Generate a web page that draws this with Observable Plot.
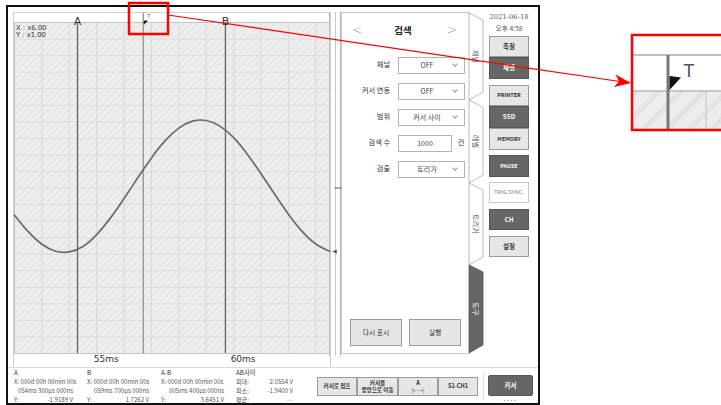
<!DOCTYPE html>
<html><head><meta charset="utf-8">
<script src="https://cdn.jsdelivr.net/npm/d3@7"></script>
<script src="https://cdn.jsdelivr.net/npm/@observablehq/plot@0.6"></script>
<style>
html,body{margin:0;padding:0;background:#fff;}
#root{position:relative;width:721px;height:405px;overflow:hidden;font-family:"Noto Sans CJK KR","Noto Sans",sans-serif;color:#333;}
</style></head>
<body><div id="root"></div>
<script>
// ---------- data ----------
const timeMs = [52.0,52.5,53.0,53.5,54.0,54.5,55.0,55.5,56.0,56.5,57.0,57.5,58.0,58.5,59.0,59.5,60.0,60.5,61.0,61.5,62.0,62.5,63.0,63.5];
const voltage = [-0.82,-1.32,-1.70,-1.91,-1.93,-1.77,-1.41,-0.91,-0.32,0.31,0.91,1.43,1.81,2.02,2.04,1.87,1.52,1.02,0.43,-0.19,-0.79,-1.31,-1.69,-1.91];
const cursorLabels = ["A", "B"];
const cursorMs = [54.3, 59.7];
const triggerLabel = "T";
const triggerMs = 56.7;
const axisTicksMs = [55, 60];
const zoomLabels = ["X : x6.00", "Y : x1.00"];

const readTitles = ["A", "B", "A-B", "AB사이"];
const readTime1 = ["X: 000d 00h 00min 00s", "X: 000d 00h 00min 00s", "X: 000d 00h 00min 00s"];
const readTime2 = ["054ms 300µs 000ns", "059ms 700µs 000ns", "005ms 400µs 000ns"];
const readY = ["-1.9189 V", "1.7262 V", "3.6451 V"];
const statLabels = ["최대:", "최소:", "평균:"];
const statValues = ["2.0554 V", "-1.9400 V", "---"];

const panelTitle = "검색";
const formLabels = ["채널", "커서 연동", "범위", "검색 수", "검출"];
const formValues = ["OFF", "OFF", "커서 사이", "1000", "트리거"];
const countUnit = "건";
const panelButtons = ["다시 표시", "실행"];
const tabLabels = ["채널", "레벨", "트리거", "도구"];
const dateText = ["2021-06-18", "오후 4:58"];
const sideLabels = ["측정", "재생", "PRINTER", "SSD", "MEMORY", "PAUSE", "TRIG.SYNC.", "CH", "설정"];
const bottomButtons = ["커서로 점프", "커서를<br>중앙으로 이동", "A<br><span style='font-weight:400;font-size:5px'>|←→|</span>", "S1-CH1"];
const cursorButton = "커서";

// ---------- helpers ----------
const root = document.getElementById("root");
function div(style, html) {
  const d = document.createElement("div");
  d.style.cssText = "position:absolute;box-sizing:border-box;" + style;
  if (html != null) d.innerHTML = html;
  root.appendChild(d);
  return d;
}
function txt(s, x, y, size, anchor = "start", extra = "") {
  const tx = anchor === "middle" ? "-50%" : anchor === "end" ? "-100%" : "0";
  return div(`left:${x}px;top:${y}px;transform:translate(${tx},-50%);font-size:${size}px;white-space:nowrap;line-height:1;${extra}`, s);
}
function btn(label, x0, y0, x1, y1, kind, size) {
  const styles = {
    light: "background:#e6e6e6;border:1px solid #9c9c9c;color:#333;",
    dark: "background:#666;border:1px solid #555;color:#fff;",
    white: "background:#fff;border:1px solid #c8c8c8;color:#aaa;"
  };
  return div(`left:${x0}px;top:${y0}px;width:${x1 - x0}px;height:${y1 - y0}px;${styles[kind]}display:flex;align-items:center;justify-content:center;text-align:center;font-weight:700;font-size:${size}px;line-height:1.25;`, `<div>${label}</div>`);
}

// ---------- frame & panels ----------
div("left:6px;top:5px;width:534px;height:400px;border:2px solid #111;");
div("left:13px;top:12px;width:318px;height:356px;border:1px solid #d0d0d0;background:#fff;");
div("left:329px;top:12px;width:12px;height:344px;border-left:1px solid #b8b8b8;border-right:1px solid #b8b8b8;");
div("left:335px;top:12px;width:1px;height:344px;background:#c8c8c8;");
div("left:8px;top:367px;width:530px;height:1px;background:#dcdcdc;");
div("left:341px;top:12px;width:129px;height:342px;border:1px solid #c8c8c8;background:#fff;");

// search panel
txt(panelTitle, 403, 31, 9.5, "middle", "font-weight:700;color:#222;");
txt("&lt;", 357, 30, 12, "middle", "color:#999;font-family:'DejaVu Sans';font-weight:200;");
txt("&gt;", 452, 30, 12, "middle", "color:#999;font-family:'DejaVu Sans';font-weight:200;");
formLabels.forEach((lab, i) => {
  const yc = 65 + i * 26;
  txt(lab, 390, yc, 7.2, "end", "color:#333;");
  const isCount = i === 3;
  const x1 = isCount ? 452 : 465;
  div(`left:398px;top:${yc - 8.5}px;width:${x1 - 398}px;height:17px;border:1px solid #b4b4b4;background:#fff;`);
  txt(formValues[i], isCount ? 425 : 427, yc, 7, "middle", "color:#444;");
  if (isCount) txt(countUnit, 461, yc, 7.2, "middle", "color:#333;");
  else div(`left:453px;top:${yc - 3.5}px;width:4px;height:4px;border-right:1px solid #999;border-bottom:1px solid #999;transform:rotate(45deg);`);
});
btn(panelButtons[0], 350, 319, 402, 346, "light", 6.8).style.fontWeight = "400";
btn(panelButtons[1], 409, 319, 461, 346, "light", 6.8).style.fontWeight = "400";

// right column
txt(dateText[0], 509, 17, 6.8, "middle", "color:#555;font-family:'DejaVu Serif','Liberation Serif',serif;");
txt(dateText[1], 509, 28, 6.8, "middle", "color:#555;");
const sideLayout = [[36,57,"light"],[57,79,"dark"],[85,106,"light"],[106,128,"dark"],[128,150,"light"],[155,177,"dark"],[182,203,"white"],[209,230,"dark"],[236,257,"light"]];
sideLabels.forEach((lab, i) => {
  const [y0, y1, kind] = sideLayout[i];
  btn(lab, 489, y0, 529, y1, kind, lab.length > 4 ? 5.4 : 6.4);
});

// bottom readouts
const colX = [14, 87, 161, 236], colR = [73, 149, 224, 293];
const rowY = [373, 382, 391, 400];
readTitles.forEach((t, i) => txt(t, colX[i], rowY[0], 6.3, "start", "color:#333;"));
for (let i = 0; i < 3; i++) {
  txt(readTime1[i], colX[i], rowY[1], 6.1, "start", "color:#555;");
  txt(readTime2[i], colR[i], rowY[2], 6.1, "end", "color:#555;");
  txt("Y:", colX[i], rowY[3], 6.1, "start", "color:#555;");
  txt(readY[i], colR[i], rowY[3], 6.1, "end", "color:#555;");
}
statLabels.forEach((l, j) => {
  txt(l, colX[3], rowY[j + 1], 6.1, "start", "color:#555;");
  txt(statValues[j], colR[3], rowY[j + 1], 6.1, "end", "color:" + (j === 2 ? "#aaa" : "#555") + ";");
});

// bottom buttons
const bbX = [317, 357, 398, 438, 478];
bottomButtons.forEach((b, i) => btn(b, bbX[i], 377, bbX[i + 1], 396, "light", 5.6));
div("left:483px;top:372px;width:1px;height:28px;background:#ddd;");
btn(cursorButton, 488, 375, 533, 396, "dark", 6.4).style.borderRadius = "2px";
txt("• • • •", 510, 400, 4.5, "middle", "color:#888;letter-spacing:0.5px;");

// ---------- the chart (Observable Plot) ----------
const chart = Plot.plot({
  width: 340, height: 370,
  marginLeft: 14, marginRight: 11, marginTop: 22, marginBottom: 17,
  x: {domain: [52, 63.5]},
  y: {domain: [-5, 5], axis: null},
  style: {background: "transparent", fontFamily: "'DejaVu Sans', sans-serif", overflow: "visible"},
  marks: [
    Plot.frame({fill: "url(#hatch)", stroke: null}),
    Plot.gridX(d3.range(53, 64), {stroke: "#d9d9d9", strokeOpacity: 1, strokeWidth: 1}),
    Plot.gridY(d3.range(-4.5, 5, 0.5), {stroke: "#dddddd", strokeOpacity: 1, strokeWidth: 1}),
    Plot.frame({stroke: "#c4c4c4"}),
    Plot.ruleX(cursorMs, {y1: -5, y2: 5, stroke: "#6a6a6a", strokeWidth: 1.4}),
    Plot.ruleX([triggerMs], {y1: -5, y2: 5.28, stroke: "#8a8a8a", strokeWidth: 1.2}),
    Plot.line(voltage, {x: timeMs, y: voltage, curve: "natural", stroke: "#6b6b6b", strokeWidth: 1.7}),
    Plot.text(cursorLabels, {x: cursorMs, text: d => d, frameAnchor: "top", dy: -5.5, fontSize: 11, fill: "#333"}),
    Plot.text(["◤"], {x: [triggerMs], text: d => d, frameAnchor: "top", dx: 2.5, dy: -2.6, fontSize: 5.5, fill: "#111"}),
    Plot.text([triggerLabel], {x: [triggerMs], text: d => d, frameAnchor: "top", dx: 5.5, dy: -8.5, fontSize: 5, fill: "#555"}),
    Plot.text([zoomLabels[0]], {text: d => d, frameAnchor: "top-left", dx: 1.5, dy: 2.2, lineAnchor: "top", fontSize: 6.8, fill: "#333"}),
    Plot.text([zoomLabels[1]], {text: d => d, frameAnchor: "top-left", dx: 1.5, dy: 9.8, lineAnchor: "top", fontSize: 6.8, fill: "#333"}),
    Plot.text(["◀"], {x: [timeMs[timeMs.length - 1]], y: [voltage[voltage.length - 1]], text: d => d, dx: 5, fontSize: 5.5, fill: "#555"}),
    Plot.ruleY([0], {x1: 63.7, x2: 63.96, stroke: "#777", strokeWidth: 1.2}),
    Plot.axisX(axisTicksMs, {tickSize: 0, tickPadding: 2.5, tickFormat: d => d + "ms", textAnchor: "start", dx: -3, fontSize: 9, fill: "#333", label: null})
  ]
});
const ns = "http://www.w3.org/2000/svg";
const defs = document.createElementNS(ns, "defs");
defs.innerHTML = `<pattern id="hatch" width="5" height="5" patternUnits="userSpaceOnUse" patternTransform="rotate(45)"><rect width="5" height="5" fill="#eeeeee"/><rect width="1.5" height="5" fill="#e7e7e7"/></pattern>`;
chart.prepend(defs);
chart.style.position = "absolute";
chart.style.left = "0px";
chart.style.top = "0px";
root.appendChild(chart);

// ---------- tabs and red annotation overlay ----------
const ov = document.createElementNS(ns, "svg");
ov.setAttribute("width", 721); ov.setAttribute("height", 405);
ov.style.cssText = "position:absolute;left:0;top:0;";
const tabY = [[13, 100], [100, 183], [183, 265], [265, 353]];
let s = `<defs><pattern id="hatch2" width="16" height="16" patternUnits="userSpaceOnUse" patternTransform="rotate(45)"><rect width="16" height="16" fill="#ededed"/><rect width="5" height="16" fill="#e3e3e3"/></pattern>
<clipPath id="insetClip"><rect x="632" y="35" width="95" height="95"/></clipPath></defs>`;
tabY.forEach(([a, b], i) => {
  const dark = i === 3;
  s += `<polygon points="469,${a} 483,${a + 7} 483,${b - 8} 469,${b}" fill="${dark ? "#666" : "#fff"}" stroke="${dark ? "#555" : "#aaa"}" stroke-width="0.8"/>`;
  const cy = (a + b) / 2;
  s += `<text x="476" y="${cy}" transform="rotate(90 476 ${cy})" text-anchor="middle" dominant-baseline="central" font-size="7" font-family="Noto Sans CJK KR" fill="${dark ? "#fff" : "#555"}">${tabLabels[i]}</text>`;
});
// inset (magnified trigger marker)
s += `<g clip-path="url(#insetClip)">
<rect x="632" y="35" width="95" height="95" fill="#fff"/>
<rect x="632" y="91" width="95" height="40" fill="url(#hatch2)"/>
<line x1="632" y1="55" x2="721" y2="55" stroke="#aaa" stroke-width="1.6"/>
<line x1="632" y1="91" x2="721" y2="91" stroke="#b8b8b8" stroke-width="1.6"/>
<line x1="706" y1="92" x2="706" y2="130" stroke="#d6d6d6" stroke-width="2"/>
<line x1="668" y1="55" x2="668" y2="130" stroke="#777" stroke-width="3"/>
<polygon points="669.5,76 681,77.5 669.5,90" fill="#111"/>
<text x="689" y="71" text-anchor="middle" dominant-baseline="central" font-size="17" font-family="DejaVu Sans" fill="#555">${triggerLabel}</text>
</g>
<rect x="632" y="35" width="95" height="95" fill="none" stroke="#f00" stroke-width="2.5"/>
<rect x="129" y="3" width="39" height="31" fill="none" stroke="#f00" stroke-width="2.5"/>
<line x1="168" y1="15" x2="620" y2="81.5" stroke="#f00" stroke-width="1.2"/>
<polygon points="631,83 615.5,74.5 619,81.3 614,87" fill="#f00"/>`;
ov.innerHTML = s;
root.appendChild(ov);
</script>
</body></html>
